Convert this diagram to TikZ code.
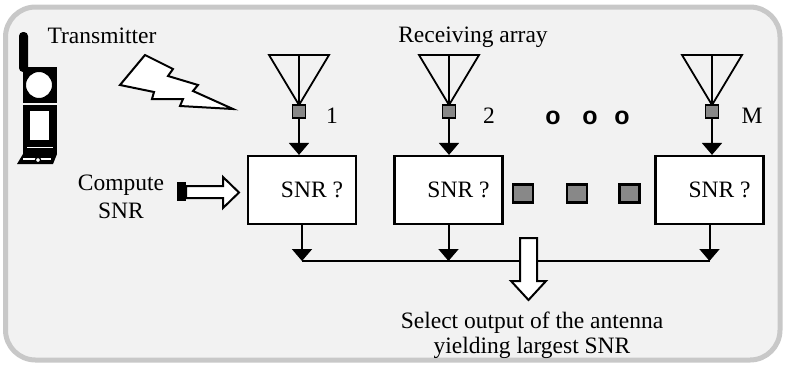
\documentclass[tikz,border=0pt]{standalone}
\usepackage{fontspec}
\setmainfont{Liberation Serif}
\newfontfamily\dotfont{Liberation Sans}
\usetikzlibrary{arrows.meta}
\definecolor{panel}{HTML}{F2F2F2}
\definecolor{rim}{HTML}{C8C8C8}
\definecolor{portgray}{HTML}{888888}

\begin{document}
\begin{tikzpicture}[x=1pt,y=-1pt,
  lbl/.style={font=\fontsize{23.5}{26}\selectfont, inner sep=0pt, anchor=base},
  dotmark/.style={font=\dotfont\bfseries\fontsize{25}{27}\selectfont, inner sep=0pt},
  snrbox/.style={draw, line width=2.2pt, fill=white, minimum width=108pt,
                 minimum height=68pt, inner sep=0pt},
  port/.style={draw, line width=1.6pt, fill=portgray, minimum width=13pt,
               minimum height=13pt, inner sep=0pt},
  relay/.style={draw, line width=2.2pt, fill=portgray, minimum width=20pt,
                minimum height=18pt, inner sep=0pt},
  feed/.style={line width=2pt, -{Triangle[length=12pt,width=20pt]}},
  dish/.style={line width=1.8pt, line join=miter},
  hollow/.style={line width=2pt, fill=white, line join=miter}
]
\useasboundingbox (0,0) rectangle (786,365);

% rounded panel
\draw[rim, line width=5pt, fill=panel, rounded corners=30pt]
  (5.5,7) rectangle (780,360);

% handheld transmitter
\fill[rounded corners=4pt] (19,72) rectangle (28,32);
\fill (23,67) rectangle (57,103);
\draw[line width=2pt, fill=white] (39,85) circle (14pt);
\fill (23,105) rectangle (57,154);
\fill[white] (30,111) rectangle (49,140);
\draw[white, line width=0.8pt] (27,147) -- (53,147);
\fill (23,154) -- (57,154) -- (53,164) -- (17,164) -- cycle;
\draw[white, line width=1.4pt] (23,159) -- (51,159);
\draw[line width=1.2pt, fill=white] (38,160) circle (2.6pt);

\node[lbl] (tx) at (102,43) {Transmitter};

% radio link
\draw[hollow] (120,85) -- (145,55) -- (173,69) -- (168,76) -- (198,85)
  -- (193,91) -- (233,109) -- (180,106) -- (183,99) -- (152,99)
  -- (154,92) -- cycle;

\node[lbl] (rx) at (473,42) {Receiving array};

% receiving antennas
\foreach \n/\x in {1/299, 2/449, M/712}{
  \draw[dish] (\x-30,55) -- (\x+30,55) -- (\x,105) -- cycle;
  \draw[dish] (\x,55) -- (\x,105);
  \node[port] (a\n) at (\x,111.5) {};
}
\node[lbl] (n1) at (332,123) {1};
\node[lbl] (n2) at (489,123) {2};
\node[lbl] (nM) at (752,123) {M};

\node[dotmark] (o1) at (553,118) {o};
\node[dotmark] (o2) at (590,118) {o};
\node[dotmark] (o3) at (622,118) {o};

% SNR estimators
\node[snrbox] (b1) at (302,190) {};
\node[snrbox] (b2) at (448.5,190) {};
\node[snrbox] (bM) at (709.5,190) {};
\node[lbl] (s1) at (312,197) {SNR ?};
\node[lbl] (s2) at (458.5,197) {SNR ?};
\node[lbl] (sM) at (719.5,197) {SNR ?};

\node[relay] (r1) at (523,193.5) {};
\node[relay] (r2) at (577,193.5) {};
\node[relay] (r3) at (629.5,193.5) {};

% antenna feeds
\foreach \n in {1,2,M}{
  \draw[feed] (a\n.south) -- (a\n.south |- b\n.north);
}

% combining bus
\coordinate (busL) at (302,261);
\coordinate (busR) at (709.5,261);
\draw[line width=2pt] (busL) -- (busR);
\foreach \n in {1,2,M}{
  \draw[feed] (b\n.south) -- (b\n.south |- busL);
}

% compute SNR pointer
\node[lbl] (c1) at (121,190) {Compute};
\node[lbl] (c2) at (121,218) {SNR};
\fill (177,182) rectangle (186,201);
\draw[hollow] (186,186) -- (223,186) -- (223,177) -- (239,192.5)
  -- (223,208) -- (223,198) -- (186,198) -- cycle;

% selection output
\draw[hollow] (520,238) -- (537,238) -- (537,281) -- (546,281)
  -- (528.5,300) -- (511,281) -- (520,281) -- cycle;
\node[lbl] (sel1) at (532,328) {Select output of the antenna};
\node[lbl] (sel2) at (532,353) {yielding largest SNR};
\end{tikzpicture}
\end{document}
